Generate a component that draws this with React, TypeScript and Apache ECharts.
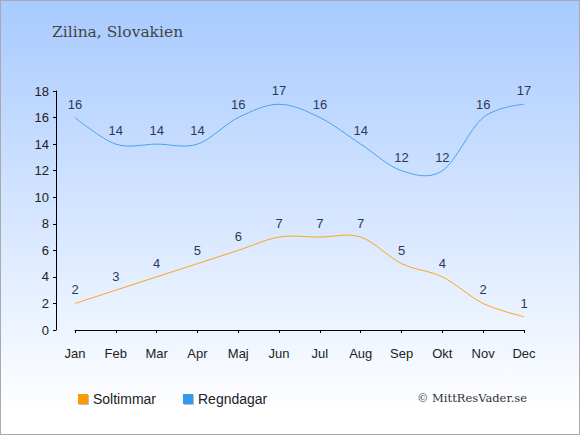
import React, { useEffect, useRef } from "react";
import * as echarts from "echarts";

const months = ["Jan", "Feb", "Mar", "Apr", "Maj", "Jun", "Jul", "Aug", "Sep", "Okt", "Nov", "Dec"];
const soltimmar = [2, 3, 4, 5, 6, 7, 7, 7, 5, 4, 2, 1];
const regndagar = [16, 14, 14, 14, 16, 17, 16, 14, 12, 12, 16, 17];
const yTicks = { min: 0, max: 18, interval: 2 };
const titleText = "Zilina, Slovakien";
const copyright = "© MittResVader.se";

const K = 1 / 3;

function splineSeries(vals: number[], color: string) {
  return {
    type: "custom",
    silent: true,
    data: vals.map((v, i) => [i, v]),
    encode: { x: 0, y: 1 },
    renderItem: (params: any, api: any) => {
      const i = params.dataIndex;
      const n = vals.length;
      if (i >= n - 1) return { type: "group", children: [] };
      const p = (j: number) => api.coord([j, vals[j]]);
      const tangent = (j: number) => {
        if (j <= 0 || j >= n - 1) return [0, 0];
        const a = p(j - 1);
        const b = p(j + 1);
        return [(b[0] - a[0]) / 2, (b[1] - a[1]) / 2];
      };
      const p0 = p(i);
      const p1 = p(i + 1);
      const t0 = tangent(i);
      const t1 = tangent(i + 1);
      return {
        type: "bezierCurve",
        shape: {
          x1: p0[0],
          y1: p0[1],
          cpx1: p0[0] + t0[0] * K,
          cpy1: p0[1] + t0[1] * K,
          cpx2: p1[0] - t1[0] * K,
          cpy2: p1[1] - t1[1] * K,
          x2: p1[0],
          y2: p1[1],
        },
        style: { stroke: color, fill: null, lineWidth: 1 },
      };
    },
  };
}

export default function App() {
  const ref = useRef<HTMLDivElement>(null);
  useEffect(() => {
    document.body.style.margin = "0";
    const chart = echarts.init(ref.current!, null, { renderer: "svg" });
    const labelStyle = {
      show: true,
      position: "top",
      distance: 7,
      color: "#2a3a5a",
      fontSize: 13,
      fontFamily: "Liberation Sans",
    };
    chart.setOption({
      animation: false,
      backgroundColor: new echarts.graphic.LinearGradient(0, 0, 0, 1, [
        { offset: 0, color: "#a8caff" },
        { offset: 0.95, color: "#ffffff" },
        { offset: 1, color: "#ffffff" },
      ]),
      title: {
        text: titleText,
        left: 46,
        top: 18,
        textStyle: { fontFamily: "DejaVu Serif", fontSize: 15.5, fontWeight: "normal", color: "#444" },
      },
      grid: { left: 74, right: 55, top: 90, bottom: 104 },
      legend: {
        left: 72,
        top: 386,
        itemWidth: 10,
        itemHeight: 10,
        itemGap: 27,
        icon: "rect",
        itemStyle: { shadowColor: "rgba(0,0,0,0.25)", shadowOffsetX: 1, shadowOffsetY: 1, shadowBlur: 0 },
        textStyle: { fontFamily: "Liberation Sans", fontSize: 14, color: "#222" },
        data: ["Soltimmar", "Regndagar"],
      },
      xAxis: {
        type: "category",
        data: months,
        boundaryGap: false,
        offset: 10,
        axisLine: { lineStyle: { color: "#000", width: 1 } },
        axisTick: { length: 3, lineStyle: { color: "#000" } },
        axisLabel: { color: "#222", fontSize: 13, fontFamily: "Liberation Sans", margin: 7 },
        splitLine: { show: false },
      },
      yAxis: {
        type: "value",
        min: yTicks.min,
        max: yTicks.max,
        interval: yTicks.interval,
        offset: 19,
        axisLine: { show: true, lineStyle: { color: "#000", width: 1 } },
        axisTick: { show: true, length: 3, lineStyle: { color: "#000" } },
        axisLabel: { color: "#222", fontSize: 13, fontFamily: "Liberation Sans", margin: 7 },
        splitLine: { show: false },
      },
      graphic: [
        {
          type: "text",
          right: 52,
          top: 391,
          style: { text: copyright, fontFamily: "DejaVu Serif", fontSize: 11.5, fill: "#333" },
        },
      ],
      series: [
        splineSeries(soltimmar, "#ffa31a"),
        splineSeries(regndagar, "#4aa3ee"),
        {
          name: "Soltimmar",
          type: "line",
          data: soltimmar,
          symbol: "circle",
          symbolSize: 0,
          showSymbol: true,
          lineStyle: { opacity: 0 },
          itemStyle: { color: "#ff9900" },
          label: labelStyle,
        },
        {
          name: "Regndagar",
          type: "line",
          data: regndagar,
          symbol: "circle",
          symbolSize: 0,
          showSymbol: true,
          lineStyle: { opacity: 0 },
          itemStyle: { color: "#3399ee" },
          label: labelStyle,
        },
      ],
    });
    return () => chart.dispose();
  }, []);
  return <div ref={ref} style={{ width: 578, height: 433, border: "1px solid #aaa" }} />;
}
